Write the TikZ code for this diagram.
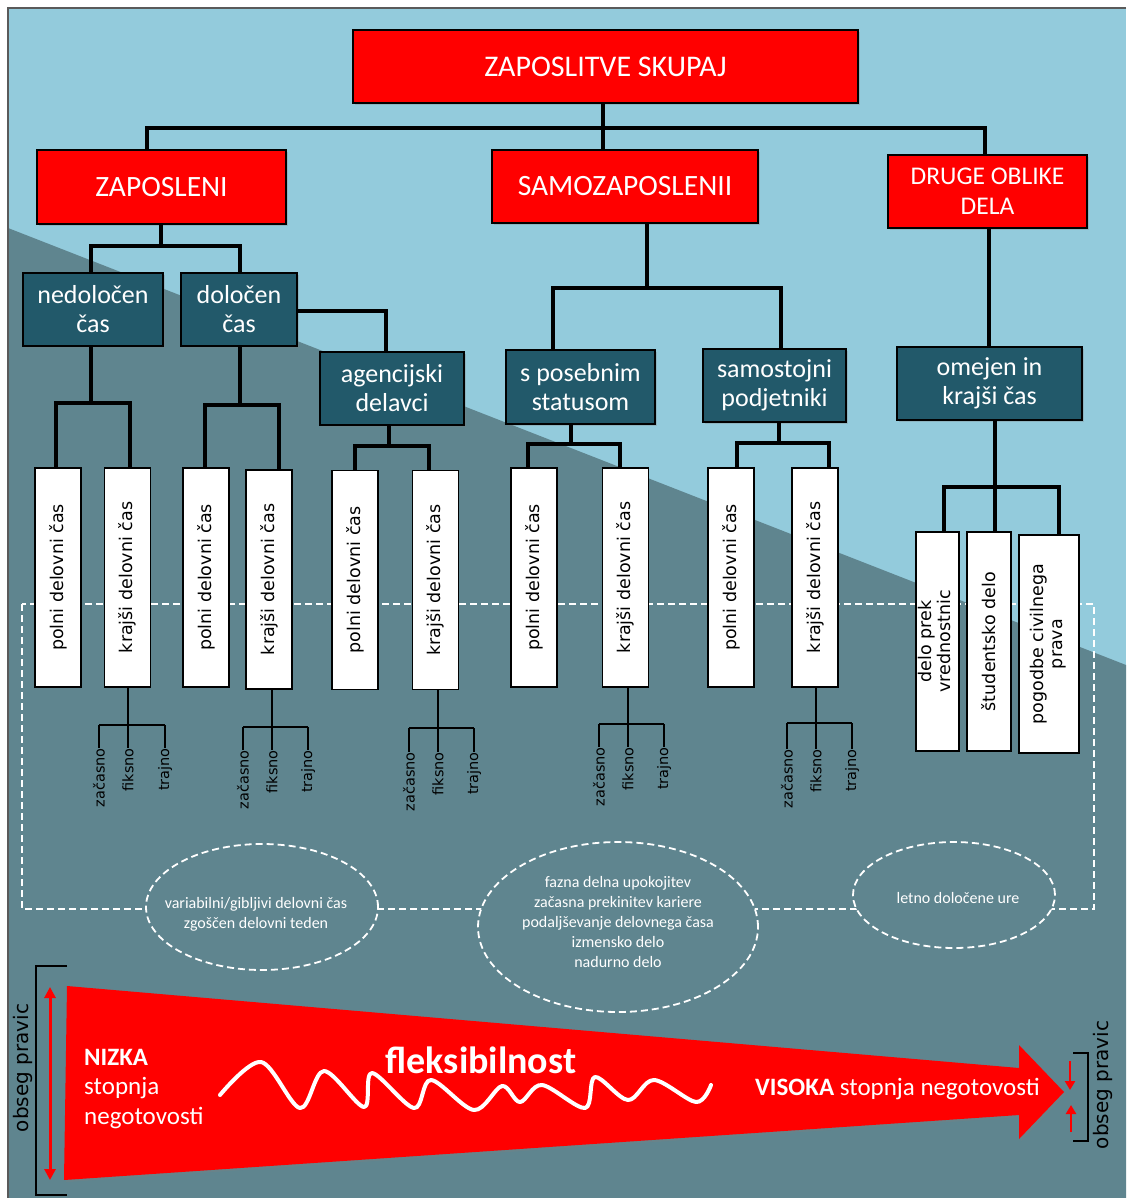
\documentclass[tikz,border=0pt]{standalone}
\usepackage{fontspec}
\setmainfont{Carlito}
\newfontfamily\dejavu{DejaVu Sans}
\usepackage{graphicx}
\usetikzlibrary{shadows,shapes.geometric,arrows.meta}
\definecolor{lightbg}{HTML}{93CBDC}
\definecolor{darkbg}{HTML}{5F858F}
\definecolor{boxteal}{HTML}{22596A}
\definecolor{framegray}{HTML}{5A5A5A}
\begin{document}
\begin{tikzpicture}[x=1pt,y=-1pt,
  conn/.style={draw=black, line width=3.2},
  subconn/.style={draw=black, line width=2.3},
  shadowed/.style={drop shadow={shadow xshift=2pt, shadow yshift=-2pt, opacity=0.3}},
  redbox/.style={draw=black, line width=1.8, fill=red, text=white, inner sep=0, align=center, shadowed},
  tealbox/.style={draw=black, line width=1.8, fill=boxteal, text=white, inner sep=0, align=center, shadowed, font=\fontsize{26}{29}\selectfont},
  leafbox/.style={draw=black, line width=1.8, fill=white, inner sep=0, minimum width=46, minimum height=219, font=\dejavu\fontsize{17.5}{18.5}\selectfont},
  sublabel/.style={inner sep=0, anchor=north, font=\dejavu\fontsize{14.5}{16}\selectfont},
  oval/.style={ellipse, draw=white, line width=1.8, dash pattern=on 7pt off 4pt, fill=darkbg, inner sep=0},
  ovaltext/.style={text=white, align=center, inner sep=0, font=\fontsize{16}{19.8}\selectfont},
  bracket/.style={draw=black, line width=2.8},
  sidelabel/.style={inner sep=0, font=\dejavu\fontsize{20}{22}\selectfont}
]
\useasboundingbox (0,0) rectangle (1126,1198);
% background
\fill[white] (0,0) rectangle (1126,1198);
\fill[lightbg] (8,8) rectangle (1126,1198);
\fill[darkbg] (8,228) -- (1126,665) -- (1126,1198) -- (8,1198) -- cycle;
\draw[framegray, line width=1.2] (1126,8) -- (8,8) -- (8,1198);

% dashed frame
\draw[white, line width=1.8, dash pattern=on 7pt off 4pt] (22,604) rectangle (1094,909);

% level 0/1
\node[redbox, minimum width=505, minimum height=73, font=\fontsize{30}{34}\selectfont] (top) at (605.5,66.5) {ZAPOSLITVE SKUPAJ};
\node[redbox, minimum width=249, minimum height=74, font=\fontsize{29.5}{33}\selectfont] (zap) at (161.5,187) {ZAPOSLENI};
\node[redbox, minimum width=266, minimum height=73, font=\fontsize{29.5}{33}\selectfont] (samo) at (625,186.5) {SAMOZAPOSLENII};
\node[redbox, minimum width=199, minimum height=73, font=\fontsize{25.5}{30}\selectfont] (drug) at (987.5,191.5) {DRUGE OBLIKE\\DELA};

% level 2
\node[tealbox, minimum width=140, minimum height=73] (ned) at (93,309.5) {nedoločen\\čas};
\node[tealbox, minimum width=116, minimum height=73] (dol) at (239,309.5) {določen\\čas};
\node[tealbox, minimum width=144, minimum height=73] (agen) at (392,388.5) {agencijski\\delavci};
\node[tealbox, minimum width=149, minimum height=74] (spos) at (580.5,387) {s posebnim\\statusom};
\node[tealbox, minimum width=143, minimum height=73] (samst) at (774.5,385.5) {samostojni\\podjetniki};
\node[tealbox, minimum width=185, minimum height=73] (omej) at (989.5,383.5) {omejen in\\krajši čas};

% leaves
\node[leafbox] (p1) at (58,577.5) {\rotatebox{90}{polni delovni čas}};
\node[leafbox] (k1) at (127.5,577.5) {\rotatebox{90}{krajši delovni čas}};
\node[leafbox] (p2) at (206,577.5) {\rotatebox{90}{polni delovni čas}};
\node[leafbox] (k2) at (269,579.5) {\rotatebox{90}{krajši delovni čas}};
\node[leafbox] (p3) at (355,580) {\rotatebox{90}{polni delovni čas}};
\node[leafbox] (k3) at (435.5,580) {\rotatebox{90}{krajši delovni čas}};
\node[leafbox] (p4) at (534,577.5) {\rotatebox{90}{polni delovni čas}};
\node[leafbox] (k4) at (625.5,577.5) {\rotatebox{90}{krajši delovni čas}};
\node[leafbox] (p5) at (731,577.5) {\rotatebox{90}{polni delovni čas}};
\node[leafbox] (k5) at (815,577.5) {\rotatebox{90}{krajši delovni čas}};
\node[leafbox, minimum width=43] (dp) at (937.5,641.5) {\rotatebox{90}{\begin{tabular}{@{}c@{}}delo prek\\vrednostnic\end{tabular}}};
\node[leafbox, minimum width=44] (st) at (989,641.5) {\rotatebox{90}{študentsko delo}};
\node[leafbox, minimum width=60, minimum height=218] (pc) at (1049,644) {\rotatebox{90}{\begin{tabular}{@{}c@{}}pogodbe civilnega\\prava\end{tabular}}};

% sub labels
\foreach \n/\x/\y in {1/99/748, 2/243/750, 3/409/752, 4/599/747, 5/787/749}{
  \node[sublabel] (z\n) at (\x,\y) {\rotatebox{90}{začasno}};
}
\foreach \n/\x/\y in {1/128/748, 2/272/750, 3/438/752, 4/628/747, 5/816/749}{
  \node[sublabel] (f\n) at (\x,\y) {\rotatebox{90}{fiksno}};
}
\foreach \n/\x/\y in {1/165/748, 2/308/750, 3/474/752, 4/664/747, 5/852/749}{
  \node[sublabel] (t\n) at (\x,\y) {\rotatebox{90}{trajno}};
}

% connectors level 0 -> 1
\coordinate (j0) at (603,128);
\coordinate (j0a) at (147,128);
\coordinate (j0b) at (985,128);
\draw[conn] (j0 |- top.south) -- (j0 |- samo.north);
\draw[conn] (j0a |- zap.north) -- (j0a) -- (j0b) -- (j0b |- drug.north);
% ZAPOSLENI
\coordinate (j1) at (161,246);
\coordinate (j1a) at (91,246);
\coordinate (j1b) at (240,246);
\draw[conn] (j1 |- zap.south) -- (j1);
\draw[conn] (j1a |- ned.north) -- (j1a) -- (j1b) -- (j1b |- dol.north);
\coordinate (j2) at (386,311);
\draw[conn] (dol.east |- j2) -- (j2) -- (j2 |- agen.north);
% SAMOZAPOSLENI
\coordinate (j3) at (647,288);
\coordinate (j3a) at (553,288);
\coordinate (j3b) at (781,288);
\draw[conn] (j3 |- samo.south) -- (j3);
\draw[conn] (j3a |- spos.north) -- (j3a) -- (j3b) -- (j3b |- samst.north);
% DRUGE
\coordinate (j4) at (989,300);
\draw[conn] (j4 |- drug.south) -- (j4 |- omej.north);

% level 2 -> leaves
\foreach \pn/\y/\xm/\xa/\xb/\la/\lb in {ned/403/91/56/130/p1/k1, dol/405/240/205/279/p2/k2, agen/446/389/355/429/p3/k3, spos/444/571/528/620/p4/k4, samst/443/779/737/829/p5/k5}{
  \coordinate (m-\pn) at (\xm,\y);
  \coordinate (a-\pn) at (\xa,\y);
  \coordinate (b-\pn) at (\xb,\y);
  \draw[conn] (m-\pn |- \pn.south) -- (m-\pn);
  \draw[conn] (a-\pn |- \la.north) -- (a-\pn) -- (b-\pn) -- (b-\pn |- \lb.north);
}
\coordinate (j10) at (995,487);
\coordinate (j10a) at (944,487);
\coordinate (j10b) at (1059,487);
\draw[conn] (j10 |- omej.south) -- (j10) -- (j10 |- st.north);
\draw[conn] (j10a |- dp.north) -- (j10a) -- (j10b) -- (j10b |- pc.north);

% krajsi -> sub labels
\foreach \n/\xm/\y in {1/128/725, 2/272/727, 3/438/728, 4/628/724, 5/816/723}{
  \coordinate (s\n) at (\xm,\y);
  \draw[subconn] (s\n |- k\n.south) -- (s\n) -- (s\n |- f\n.north);
  \draw[subconn] (z\n.north |- s\n) -- (s\n) -- (t\n.north |- s\n);
  \draw[subconn] (z\n.north |- s\n) -- (z\n.north);
  \draw[subconn] (t\n.north |- s\n) -- (t\n.north);
}

% ovals
\node[oval, minimum width=232, minimum height=126] (e1) at (262,907) {};
\node[oval, minimum width=280, minimum height=170] (e2) at (618,927) {};
\node[oval, minimum width=202, minimum height=106] (e3) at (954,895) {};
\node[ovaltext] (e1t) at (256,914) {variabilni/gibljivi delovni čas\\zgoščen delovni teden};
\node[ovaltext] (e2t) at (618,922) {fazna delna upokojitev\\začasna prekinitev kariere\\podaljševanje delovnega časa\\izmensko delo\\nadurno delo};
\node[ovaltext] (e3t) at (958,898) {letno določene ure};

% big arrow
\path[fill=red, shadowed] (67,986) -- (1019,1068) -- (1019,1045) -- (1064,1092) -- (1019,1139) -- (1019,1115) -- (64,1180) -- cycle;

% wave
\draw[white, line width=4, line cap=round, line join=round] plot[smooth, tension=0.55] coordinates {(220,1095) (261,1062) (300,1108) (324,1071) (364,1107) (372,1073) (414,1108) (431,1080) (474,1110) (502,1086) (520,1102) (542,1085) (585,1108) (595,1077) (628,1100) (654,1080) (696,1102) (711,1085)};

% arrow texts
\node[text=white, anchor=north west, align=left, inner sep=0, font=\fontsize{25}{29.5}\selectfont] (nizka) at (84,1049) {\textbf{NIZKA}\\stopnja\\negotovosti};
\node[text=white, anchor=base, inner sep=0, font=\bfseries\fontsize{38}{42}\selectfont] (flex) at (481,1073) {fleksibilnost};
\node[text=white, anchor=base west, inner sep=0, font=\fontsize{25}{28}\selectfont] (visoka) at (755,1095) {\textbf{VISOKA} stopnja negotovosti};

% left scale
\draw[bracket] (67,966) -- (36,966) -- (36,1195) -- (67,1195);
\draw[red, line width=3, {Triangle[length=11pt,width=11pt]}-{Triangle[length=11pt,width=11pt]}] (50,987) -- (50,1180);
\node[sidelabel] (obL) at (23,1068) {\rotatebox{90}{obseg pravic}};

% right scale
\draw[bracket] (1073,1053) -- (1088,1053) -- (1088,1141) -- (1073,1141);
\draw[red, line width=2.6, -{Triangle[length=9pt,width=10pt]}] (1070,1061) -- (1070,1090);
\draw[red, line width=2.6, -{Triangle[length=9pt,width=10pt]}] (1071,1132) -- (1071,1105);
\node[sidelabel] (obR) at (1103,1085) {\rotatebox{90}{obseg pravic}};
\end{tikzpicture}
\end{document}
